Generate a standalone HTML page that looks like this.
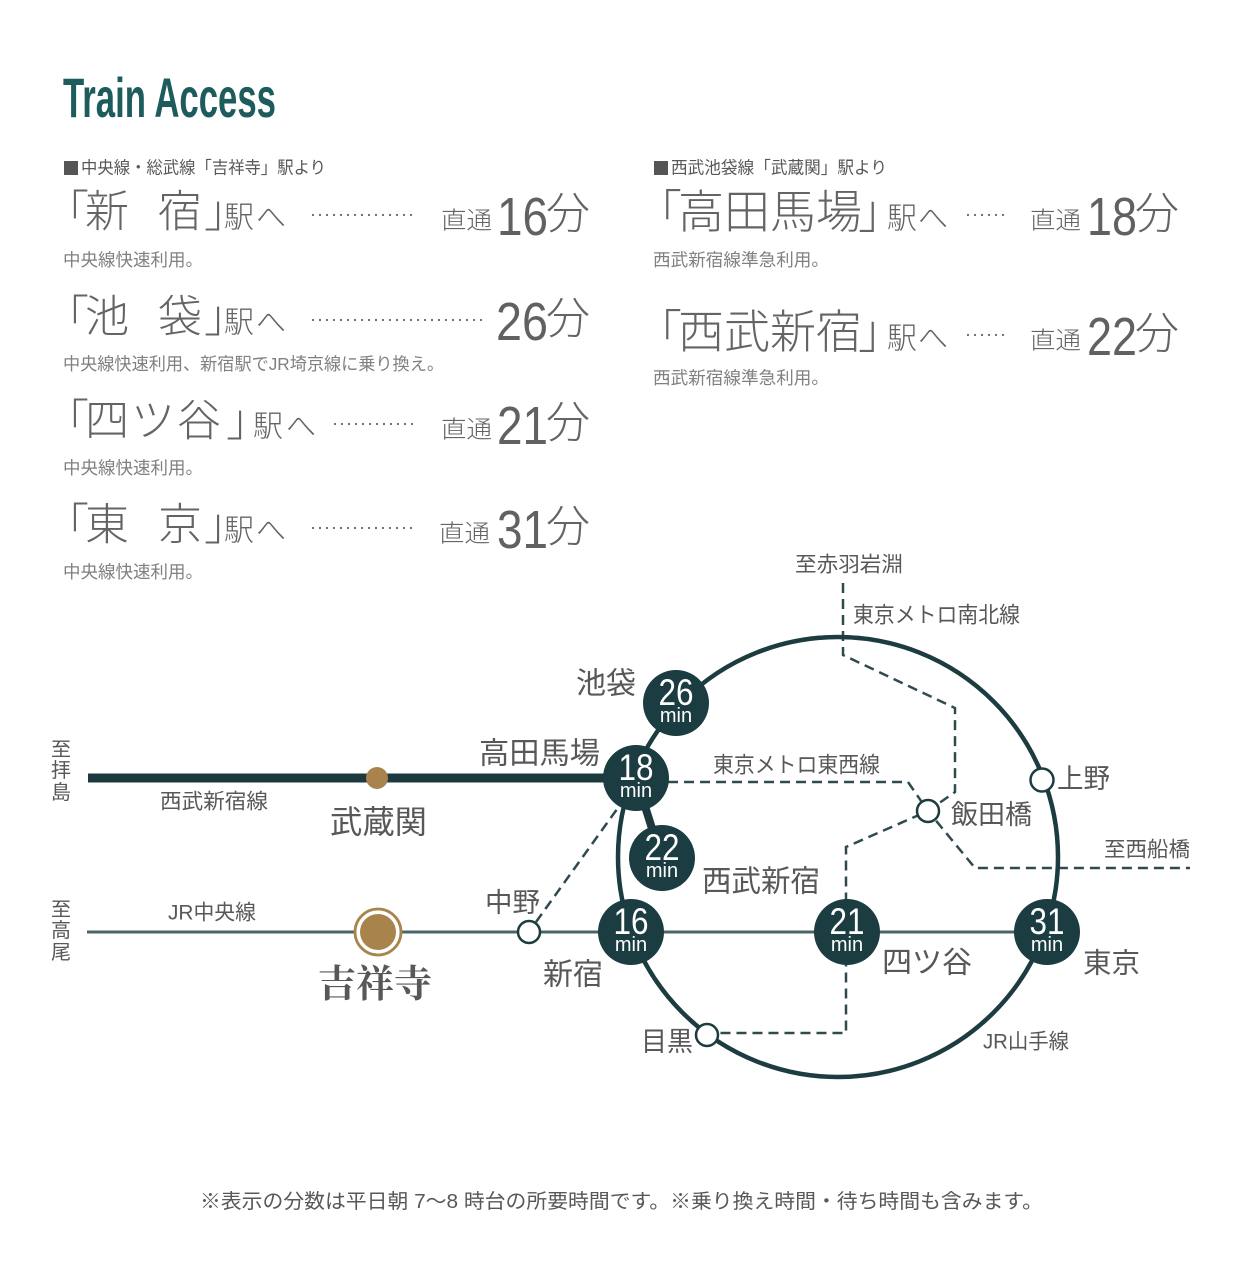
<!DOCTYPE html>
<html><head><meta charset="utf-8">
<style>
html,body{margin:0;padding:0;background:#fff;}
svg{display:block}
text{font-family:"Liberation Sans","Noto Sans CJK JP",sans-serif;dominant-baseline:central;}
.g{fill:#646464;font-weight:300;}
.s{fill:#808080;}
.m{fill:#585858;}
.num{fill:#616161;dominant-baseline:alphabetic;}
.w{fill:#fff;dominant-baseline:alphabetic;text-anchor:middle;}
.dots{stroke:#666;stroke-width:2.2;stroke-linecap:round;stroke-dasharray:0 7;}
.dash{fill:none;stroke:#2f4b4f;stroke-width:2.5;stroke-dasharray:10 6;}
</style></head><body>
<svg width="1242" height="1280" viewBox="0 0 1242 1280" xmlns="http://www.w3.org/2000/svg">
<rect width="1242" height="1280" fill="#fff"/>

<!-- Title -->
<text x="63" y="117" font-size="56" font-weight="bold" fill="#1e5b5d" textLength="213" lengthAdjust="spacingAndGlyphs" style="dominant-baseline:alphabetic">Train Access</text>

<!-- Left column -->
<rect x="64" y="161" width="14" height="14" fill="#555"/>
<text class="m" x="81" y="168" font-size="17" textLength="245" lengthAdjust="spacingAndGlyphs">中央線・総武線「吉祥寺」駅より</text>

<!-- row 1 -->
<text class="g" x="45 85 158 204" y="212" font-size="44">「新宿」</text>
<text class="g" x="224 256" y="218" font-size="30">駅へ</text>
<line class="dots" x1="313" y1="215" x2="418" y2="215"/>
<text class="g" x="441" y="221" font-size="24" textLength="51" lengthAdjust="spacingAndGlyphs">直通</text>
<text class="num" x="497" y="235" font-size="54" textLength="51" lengthAdjust="spacingAndGlyphs">16</text>
<text class="g" x="546" y="214" font-size="44">分</text>
<text class="s" x="63" y="260" font-size="17.5" textLength="140" lengthAdjust="spacingAndGlyphs">中央線快速利用。</text>

<!-- row 2 -->
<text class="g" x="45 85 158 204" y="317" font-size="44">「池袋」</text>
<text class="g" x="224 256" y="323" font-size="30">駅へ</text>
<line class="dots" x1="313" y1="320" x2="485" y2="320"/>
<text class="num" x="496" y="340" font-size="54" textLength="52" lengthAdjust="spacingAndGlyphs">26</text>
<text class="g" x="546" y="319" font-size="44">分</text>
<text class="s" x="63" y="364" font-size="17.5" textLength="381" lengthAdjust="spacingAndGlyphs">中央線快速利用、新宿駅でJR埼京線に乗り換え。</text>

<!-- row 3 -->
<text class="g" x="45 85 131 177 226" y="421" font-size="44">「四ツ谷」</text>
<text class="g" x="253 286" y="427" font-size="30">駅へ</text>
<line class="dots" x1="335" y1="424" x2="418" y2="424"/>
<text class="g" x="441" y="430" font-size="24" textLength="51" lengthAdjust="spacingAndGlyphs">直通</text>
<text class="num" x="497" y="444" font-size="54" textLength="51" lengthAdjust="spacingAndGlyphs">21</text>
<text class="g" x="546" y="423" font-size="44">分</text>
<text class="s" x="63" y="468" font-size="17.5" textLength="140" lengthAdjust="spacingAndGlyphs">中央線快速利用。</text>

<!-- row 4 -->
<text class="g" x="45 85 158 204" y="525" font-size="44">「東京」</text>
<text class="g" x="224 256" y="531" font-size="30">駅へ</text>
<line class="dots" x1="313" y1="528" x2="418" y2="528"/>
<text class="g" x="439" y="534" font-size="24" textLength="51" lengthAdjust="spacingAndGlyphs">直通</text>
<text class="num" x="497" y="548" font-size="54" textLength="51" lengthAdjust="spacingAndGlyphs">31</text>
<text class="g" x="546" y="527" font-size="44">分</text>
<text class="s" x="63" y="572" font-size="17.5" textLength="140" lengthAdjust="spacingAndGlyphs">中央線快速利用。</text>

<!-- Right column -->
<rect x="654" y="161" width="14" height="14" fill="#555"/>
<text class="m" x="671" y="168" font-size="17" textLength="216" lengthAdjust="spacingAndGlyphs">西武池袋線「武蔵関」駅より</text>

<text class="g" x="636 678 724 770 816 858" y="212" font-size="46">「高田馬場」</text>
<text class="g" x="887 918" y="219" font-size="30">駅へ</text>
<line class="dots" x1="968" y1="215" x2="1006" y2="215"/>
<text class="g" x="1030" y="221" font-size="24" textLength="51" lengthAdjust="spacingAndGlyphs">直通</text>
<text class="num" x="1087" y="235" font-size="54" textLength="50" lengthAdjust="spacingAndGlyphs">18</text>
<text class="g" x="1135" y="214" font-size="44">分</text>
<text class="s" x="653" y="260" font-size="17.5" textLength="176" lengthAdjust="spacingAndGlyphs">西武新宿線準急利用。</text>

<text class="g" x="636 678 724 770 816 858" y="332" font-size="46">「西武新宿」</text>
<text class="g" x="887 918" y="339" font-size="30">駅へ</text>
<line class="dots" x1="968" y1="335" x2="1006" y2="335"/>
<text class="g" x="1030" y="341" font-size="24" textLength="51" lengthAdjust="spacingAndGlyphs">直通</text>
<text class="num" x="1087" y="355" font-size="54" textLength="50" lengthAdjust="spacingAndGlyphs">22</text>
<text class="g" x="1135" y="334" font-size="44">分</text>
<text class="s" x="653" y="378" font-size="17.5" textLength="176" lengthAdjust="spacingAndGlyphs">西武新宿線準急利用。</text>

<!-- ===== MAP ===== -->
<path class="dash" d="M843,583 V655 L955,708 V792 L928,811 L846,847 V1033 H718"/>
<path class="dash" d="M668,782 H908 L928,811 L975,868 H1190"/>
<path class="dash" d="M536,922 L620,805"/>

<circle cx="838" cy="857" r="220" fill="none" stroke="#1c3c40" stroke-width="4.5"/>

<line x1="88" y1="778" x2="636" y2="778" stroke="#1c3a3e" stroke-width="9"/>
<line x1="636" y1="778" x2="662" y2="860" stroke="#1c3a3e" stroke-width="8"/>

<line x1="87" y1="932" x2="1046" y2="932" stroke="#4a6468" stroke-width="3"/>

<circle cx="377" cy="778" r="11" fill="#a8844c"/>
<circle cx="378" cy="932" r="23" fill="#fff" stroke="#a8844c" stroke-width="2.8"/>
<circle cx="378" cy="932" r="18" fill="#a8844c"/>

<circle cx="529" cy="932" r="11" fill="#fff" stroke="#1c3c40" stroke-width="2.5"/>
<circle cx="928" cy="811" r="11" fill="#fff" stroke="#1c3c40" stroke-width="2.5"/>
<circle cx="1042" cy="780" r="11.5" fill="#fff" stroke="#1c3c40" stroke-width="2.5"/>
<circle cx="707" cy="1035" r="11" fill="#fff" stroke="#1c3c40" stroke-width="2.5"/>

<g fill="#1b3c40">
<circle cx="676" cy="703" r="33"/>
<circle cx="636" cy="778" r="33"/>
<circle cx="662" cy="858" r="33"/>
<circle cx="631" cy="932" r="33"/>
<circle cx="847" cy="932" r="33"/>
<circle cx="1047" cy="932" r="33"/>
</g>
<g>
<text class="w" x="676" y="705" font-size="37" textLength="35" lengthAdjust="spacingAndGlyphs">26</text>
<text class="w" x="676" y="722" font-size="20">min</text>
<text class="w" x="636" y="780" font-size="37" textLength="35" lengthAdjust="spacingAndGlyphs">18</text>
<text class="w" x="636" y="797" font-size="20">min</text>
<text class="w" x="662" y="860" font-size="37" textLength="35" lengthAdjust="spacingAndGlyphs">22</text>
<text class="w" x="662" y="877" font-size="20">min</text>
<text class="w" x="631" y="934" font-size="37" textLength="35" lengthAdjust="spacingAndGlyphs">16</text>
<text class="w" x="631" y="951" font-size="20">min</text>
<text class="w" x="847" y="934" font-size="37" textLength="35" lengthAdjust="spacingAndGlyphs">21</text>
<text class="w" x="847" y="951" font-size="20">min</text>
<text class="w" x="1047" y="934" font-size="37" textLength="35" lengthAdjust="spacingAndGlyphs">31</text>
<text class="w" x="1047" y="951" font-size="20">min</text>
</g>

<g class="m">
<text x="795" y="565" font-size="21" textLength="108" lengthAdjust="spacingAndGlyphs">至赤羽岩淵</text>
<text x="853" y="615" font-size="22" textLength="167" lengthAdjust="spacingAndGlyphs">東京メトロ南北線</text>
<text x="576" y="684" font-size="30" textLength="60" lengthAdjust="spacingAndGlyphs">池袋</text>
<text x="479" y="754" font-size="30" textLength="121" lengthAdjust="spacingAndGlyphs">高田馬場</text>
<text x="713" y="765" font-size="22" textLength="167" lengthAdjust="spacingAndGlyphs">東京メトロ東西線</text>
<text x="160" y="802" font-size="21" textLength="108" lengthAdjust="spacingAndGlyphs">西武新宿線</text>
<text x="330" y="822" font-size="32" textLength="97" lengthAdjust="spacingAndGlyphs">武蔵関</text>
<text x="51 51 51" y="750 771 793" font-size="20">至拝島</text>
<text x="51 51 51" y="910 931 953" font-size="20">至高尾</text>
<text x="168" y="913" font-size="21" textLength="88" lengthAdjust="spacingAndGlyphs">JR中央線</text>
<text x="318" y="985" font-size="38" font-weight="bold" textLength="114" lengthAdjust="spacingAndGlyphs" style="font-family:'Liberation Serif','Noto Serif CJK SC',serif">吉祥寺</text>
<text x="485" y="903" font-size="27" textLength="55" lengthAdjust="spacingAndGlyphs">中野</text>
<text x="543" y="975" font-size="30" textLength="60" lengthAdjust="spacingAndGlyphs">新宿</text>
<text x="702" y="882" font-size="30" textLength="118" lengthAdjust="spacingAndGlyphs">西武新宿</text>
<text x="882" y="963" font-size="30" textLength="90" lengthAdjust="spacingAndGlyphs">四ツ谷</text>
<text x="641" y="1042" font-size="27" textLength="52" lengthAdjust="spacingAndGlyphs">目黒</text>
<text x="983" y="1042" font-size="21" textLength="86" lengthAdjust="spacingAndGlyphs">JR山手線</text>
<text x="1057" y="779" font-size="27" textLength="53" lengthAdjust="spacingAndGlyphs">上野</text>
<text x="951" y="815" font-size="27" textLength="81" lengthAdjust="spacingAndGlyphs">飯田橋</text>
<text x="1104" y="850" font-size="21" textLength="86" lengthAdjust="spacingAndGlyphs">至西船橋</text>
<text x="1083" y="963" font-size="28" textLength="57" lengthAdjust="spacingAndGlyphs">東京</text>
</g>

<text class="m" x="200" y="1202" font-size="20" textLength="843" lengthAdjust="spacingAndGlyphs">※表示の分数は平日朝 7〜8 時台の所要時間です。※乗り換え時間・待ち時間も含みます。</text>
</svg>
</body></html>
